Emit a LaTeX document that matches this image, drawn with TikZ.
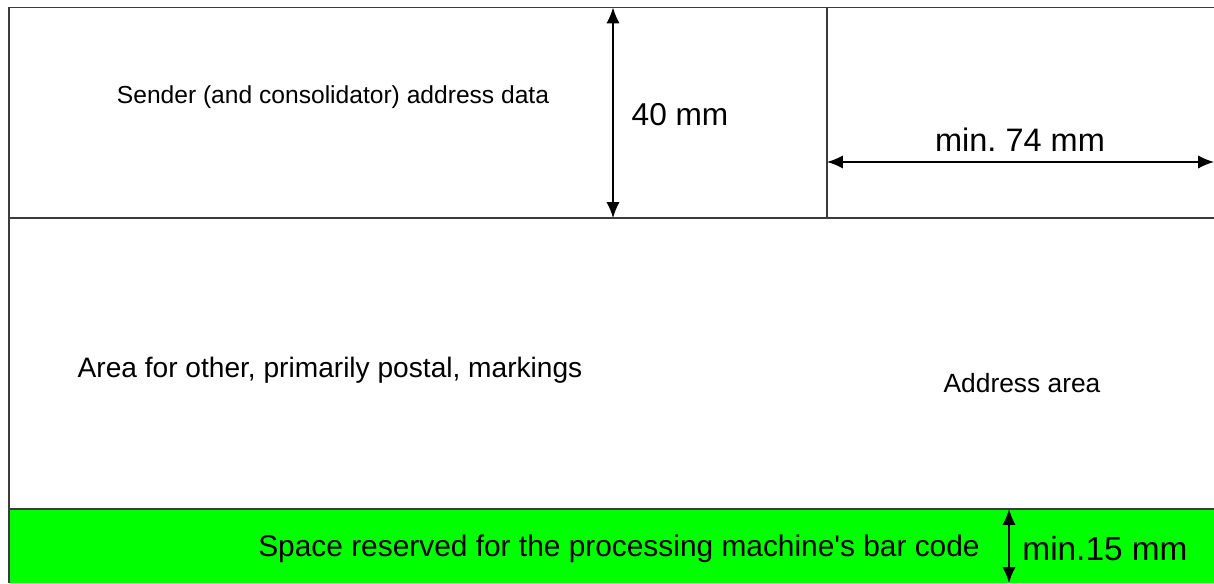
\documentclass[tikz,border=0pt]{standalone}
\usepackage{fontspec}
\setmainfont{Liberation Sans}
\usetikzlibrary{arrows.meta}
\definecolor{barcodegreen}{HTML}{00FF00}
\definecolor{frameline}{HTML}{3C3C3C}
\tikzset{
  frame/.style={draw=frameline, line width=1.1pt},
  dimarrow/.style={{Latex[length=9pt,width=7.5pt]}-{Latex[length=9pt,width=7.5pt]}, line width=0.9pt},
  label/.style={inner sep=0pt, text=black}
}
\begin{document}
\frenchspacing
\begin{tikzpicture}
  \useasboundingbox (0,0) rectangle (24.28,11.66);
  % bar code band
  \fill[barcodegreen] (0.18,0) rectangle (24.28,1.48);
  % frame and area lines
  \draw[frame] (0.18,0) -- (0.18,11.51) -- (24.28,11.51);
  \draw[frame] (0.18,7.30) -- (24.28,7.30);
  \draw[frame] (0.18,1.48) -- (24.28,1.48);
  \draw[frame] (16.54,7.30) -- (16.54,11.51);
  % dimension ends
  \coordinate (h0) at (12.26,11.51);
  \coordinate (h1) at (12.26,7.30);
  \coordinate (w0) at (16.54,8.42);
  \coordinate (w1) at (24.28,8.42);
  \coordinate (b0) at (20.18,1.48);
  \coordinate (b1) at (20.18,0);
  \draw[dimarrow] (h0) -- (h1);
  \draw[dimarrow] (w0) -- (w1);
  \draw[dimarrow] (b0) -- (b1);
  % texts
  \node[label, font=\fontsize{14}{16}\selectfont] (sender) at (6.66,9.72) {Sender (and consolidator) address data};
  \node[label, font=\fontsize{18}{20}\selectfont] (height) at (13.60,9.36) {40 mm};
  \node[label, font=\fontsize{18.5}{20}\selectfont] (width) at (20.40,8.86) {min.\ 74 mm};
  \node[label, font=\fontsize{16}{18}\selectfont] (other) at (6.60,4.26) {Area for other, primarily postal, markings};
  \node[label, font=\fontsize{15}{17}\selectfont] (address) at (20.44,4.00) {Address area};
  \node[label, font=\fontsize{17}{19}\selectfont] (barcode) at (12.38,0.68) {Space reserved for the processing machine\textquotesingle s bar code};
  \node[label, font=\fontsize{19}{21}\selectfont] (band) at (22.10,0.68) {min.15 mm};
\end{tikzpicture}
\end{document}
